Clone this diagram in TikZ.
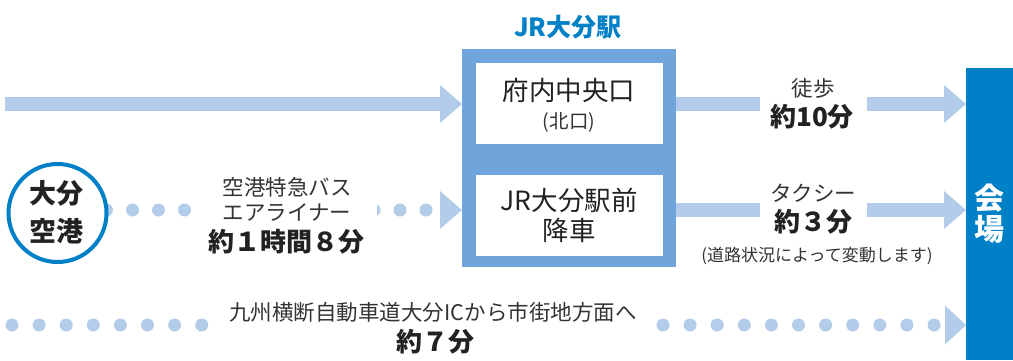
\documentclass[tikz,border=0pt]{standalone}
\usepackage{fontspec}
\newfontfamily\jp{Noto Sans CJK JP}
\usetikzlibrary{arrows.meta,calc}
\definecolor{bandc}{HTML}{B3CCEA}
\definecolor{stblue}{HTML}{6FA5DA}
\definecolor{dkblue}{HTML}{0080C6}
\definecolor{txt}{HTML}{333333}
\definecolor{txtb}{HTML}{222222}
\begin{document}
\begin{tikzpicture}[x=1pt,y=-1pt,
  every node/.style={inner sep=0pt,outer sep=0pt},
  tip/.style={-{Triangle[width=38pt,length=22pt,line width=0pt]}},
  bandline/.style={draw=bandc,line width=14pt},
  dotline/.style={draw=bandc,line width=13pt,line cap=round,dash pattern=on 0pt off #1},
  gapbox/.style={minimum height=14pt},
  lab/.style={text=txt,font=\jp\fontsize{21.5}{24}\selectfont},
  labs/.style={text=txt,font=\jp\fontsize{17}{20}\selectfont},
  labb/.style={text=txtb,font=\jp\bfseries\fontsize{26}{30}\selectfont},
  boxlab/.style={text=txtb,font=\jp\fontsize{26.5}{30}\selectfont},
  innerbox/.style={fill=white,minimum width=187pt,minimum height=81pt}
]
\useasboundingbox (0,0) rectangle (1013,360);

% station
\node[fill=stblue,minimum width=214pt,minimum height=218pt] (station) at (569,158) {};
\node[innerbox] (north) at (569.3,103.5) {};
\node[innerbox] (front) at (569.3,215.5) {};
\node[text=dkblue,font=\jp\bfseries\fontsize{25}{28}\selectfont] (title) at (568,27) {JR大分駅};
\node[boxlab] (northA) at (569,90) {府内中央口};
\node[labs,font=\jp\fontsize{19.5}{22}\selectfont] (northB) at (569,122) {(北口)};
\node[boxlab] (frontA) at (569,200) {JR大分駅前};
\node[boxlab] (frontB) at (569,230) {降車};

% venue
\node[fill=dkblue,minimum width=47pt,minimum height=292pt,text=white,
      font=\jp\bfseries\fontsize{30}{31}\selectfont,align=center] (venue) at (989.5,214) {会\\場};

% rows
\coordinate (s1) at (5,104);
\coordinate (s2) at (0,210);
\coordinate (s3) at (12,325);

% row 1 left
\draw[bandline,tip] (s1) -- (station.west |- s1);

% row 1 right
\node[gapbox,minimum width=107pt] (walkgap) at (813.5,104) {};
\draw[bandline] (station.east |- s1) -- (walkgap.west);
\draw[bandline,tip] (walkgap.east) -- (venue.west |- s1);
\node[lab] (walkA) at (813,88) {徒歩};
\node[labb] (walkB) at (812,117) {約10分};

% row 2 right
\node[gapbox,minimum width=107pt] (taxigap) at (813.5,210) {};
\draw[bandline] (station.east |- s2) -- (taxigap.west);
\draw[bandline,tip] (taxigap.east) -- (venue.west |- s2);
\node[lab] (taxiA) at (813,193) {タクシー};
\node[labb] (taxiB) at (813,222) {約３分};
\node[labs] (taxiC) at (817,256) {(道路状況によって変動します)};

% row 2 left (airport)
\node[gapbox,minimum width=182pt] (busgap) at (283,210) {};
\draw[dotline=26pt] (106.5,210) -- (busgap.west);
\begin{scope}
  \clip (377,0) rectangle (1013,360);
  \draw[dotline=26pt,tip] (busgap.east) -- (station.west |- s2);
\end{scope}
\node[circle,draw=dkblue,line width=4pt,fill=white,minimum size=98pt] (airport) at (57.5,213) {};
\node[labb,font=\jp\bfseries\fontsize{27}{30}\selectfont] (airA) at (57,193) {大分};
\node[labb,font=\jp\bfseries\fontsize{27}{30}\selectfont] (airB) at (57,231) {空港};
\node[lab] (busA) at (287,187) {空港特急バス};
\node[lab] (busB) at (287,213) {エアライナー};
\node[labb] (busC) at (286,242) {約１時間８分};

% row 3
\node[gapbox,minimum width=461pt] (icgap) at (432.5,325) {};
\draw[dotline=27.1pt] (s3) -- (icgap.west);
\draw[dotline=27.1pt,-{Triangle[width=39pt,length=21pt,line width=0pt]}] (icgap.east) -- (venue.west |- s3);
\node[lab] (icA) at (433,312) {九州横断自動車道大分ICから市街地方面へ};
\node[labb] (icB) at (435,342) {約７分};
\end{tikzpicture}
\end{document}
